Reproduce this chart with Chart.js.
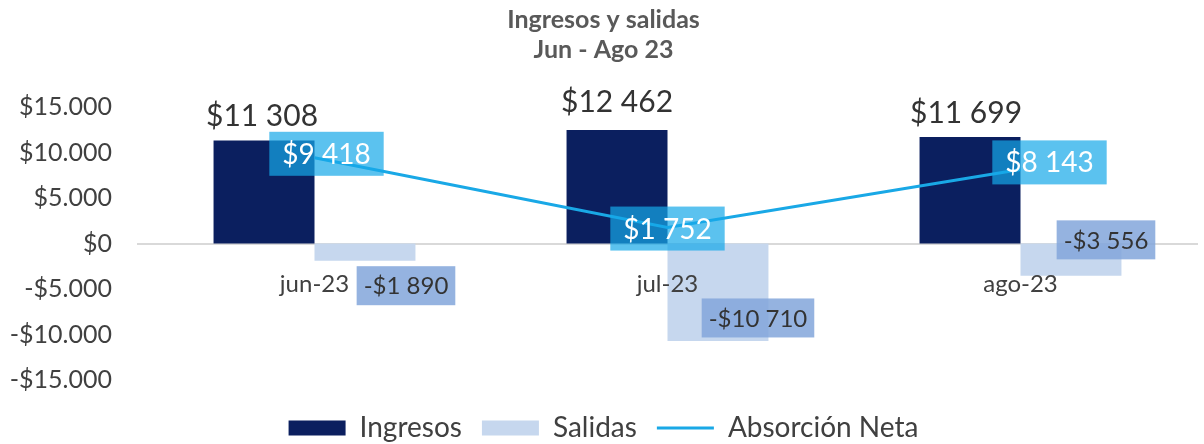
<!DOCTYPE html>
<html>
<head>
<meta charset="utf-8">
<script src="https://cdn.jsdelivr.net/npm/chart.js@4"></script>
<style>
  html, body { margin: 0; padding: 0; background: #ffffff; overflow: hidden; }
  /* a bit taller than the window so the legend can sit low; the excess is cropped */
  #wrap { width: 1204px; height: 452px; position: relative; }
</style>
</head>
<body>
<div id="wrap"><canvas id="chart"></canvas></div>
<script>
// Data
const months = ['jun-23', 'jul-23', 'ago-23'];
const ingresos = [11308, 12462, 11699];
const salidas = [-1890, -10710, -3556];
const absorcion = [9418, 1752, 8143];
const yTicks = [-15000, -10000, -5000, 0, 5000, 10000, 15000];

const FONT = 'Lato';
const TXT = '#404040';

// "$11 308" style for labels, "$15.000" style for the axis
const fmtLabel = v => (v < 0 ? '-' : '') + '$' + Math.abs(v).toString().replace(/\B(?=(\d{3})+(?!\d))/g, ' ');
const fmtTick = v => (v < 0 ? '-' : '') + '$' + Math.abs(v).toString().replace(/\B(?=(\d{3})+(?!\d))/g, '.');

// simple label drawer (no datalabels plugin available)
const valueLabels = {
    id: 'valueLabels',
    afterDatasetsDraw(chart, args, opts) {
        const ctx = chart.ctx;
        chart.data.datasets.forEach((ds, di) => {
            const cfg = opts.sets[di];
            if (!cfg) return;
            const meta = chart.getDatasetMeta(di);
            meta.data.forEach((el, i) => {
                const txt = fmtLabel(ds.data[i]);
                const off = cfg.offsets[i];
                const cx = el.x + off[0];
                const cy = el.y + off[1];
                ctx.save();
                ctx.font = cfg.size + 'px ' + FONT;
                const w = ctx.measureText(txt).width;
                if (cfg.box) {
                    const bw = w + cfg.padX * 2;
                    const bh = cfg.boxH;
                    ctx.fillStyle = cfg.box;
                    ctx.fillRect(cx - bw / 2, cy - bh / 2, bw, bh);
                }
                ctx.fillStyle = cfg.color;
                ctx.textAlign = 'center';
                ctx.textBaseline = 'middle';
                ctx.fillText(txt, cx, cy + 1);
                ctx.restore();
            });
        });
    }
};

new Chart(document.getElementById('chart'), {
    data: {
        labels: months,
        datasets: [
            {
                type: 'line',
                label: 'Absorción Neta',
                data: absorcion,
                borderColor: '#19a8e6',
                backgroundColor: '#19a8e6',
                borderWidth: 3,
                pointRadius: 0,
                tension: 0,
                order: 0
            },
            {
                type: 'bar',
                label: 'Ingresos',
                data: ingresos,
                backgroundColor: '#0b1f5f',
                categoryPercentage: 0.572,
                barPercentage: 1,
                order: 1
            },
            {
                type: 'bar',
                label: 'Salidas',
                data: salidas,
                backgroundColor: '#c6d7ee',
                categoryPercentage: 0.572,
                barPercentage: 1,
                order: 1
            }
        ]
    },
    options: {
        responsive: true,
        maintainAspectRatio: false,
        animation: false,
        layout: { padding: { left: 10, right: 7, top: 0, bottom: 0 } },
        scales: {
            x: {
                type: 'category',
                position: { y: 0 },
                grid: { display: false, drawTicks: false },
                border: { display: true, color: '#d9d9d9', width: 2 },
                ticks: { z: 1, color: TXT, font: { family: FONT, size: 24 }, padding: 26 }
            },
            y: {
                min: -15000,
                max: 15000,
                afterBuildTicks: axis => { axis.ticks = yTicks.map(v => ({ value: v })); },
                afterFit: axis => { axis.width = 128; },
                grid: { display: false, drawTicks: false },
                border: { display: false },
                ticks: {
                    color: TXT,
                    font: { family: FONT, size: 25 },
                    padding: 26,
                    callback: v => fmtTick(v)
                }
            }
        },
        plugins: {
            title: {
                display: true,
                text: ['Ingresos y salidas', 'Jun - Ago 23'],
                color: '#595959',
                font: { family: FONT, size: 25, weight: 'bold', lineHeight: 1.2 },
                padding: { top: 5, bottom: 42 }
            },
            legend: {
                position: 'bottom',
                title: { display: true, text: '', font: { size: 14, lineHeight: 1 }, padding: 0 },
                labels: {
                    color: TXT,
                    font: { family: FONT, size: 28, lineHeight: 1 },
                    usePointStyle: true,
                    pointStyleWidth: 57,
                    boxHeight: 15,
                    padding: 20,
                    generateLabels: chart => {
                        const order = [1, 2, 0];
                        return order.map(i => {
                            const ds = chart.data.datasets[i];
                            const isLine = ds.type === 'line';
                            return {
                                text: ds.label,
                                datasetIndex: i,
                                fillStyle: ds.backgroundColor,
                                strokeStyle: isLine ? ds.borderColor : ds.backgroundColor,
                                lineWidth: isLine ? 3 : 0,
                                pointStyle: isLine ? 'line' : 'rect',
                                fontColor: TXT,
                                hidden: false
                            };
                        });
                    }
                }
            },
            tooltip: { enabled: false },
            valueLabels: {
                sets: {
                    0: { size: 28, color: '#ffffff', box: 'rgba(22,168,232,0.7)', padX: 13, boxH: 44,
                         offsets: [[12, -4], [0, 1], [29, -7]] },
                    1: { size: 30, color: '#333333', offsets: [[-2, -25], [0, -29], [-4, -25]] },
                    2: { size: 24, color: '#333333', box: 'rgba(130,166,218,0.85)', padX: 7, boxH: 39,
                         offsets: [[41, 25], [40, -23], [35, -36]] }
                }
            }
        }
    },
    plugins: [valueLabels]
});
</script>
</body>
</html>
